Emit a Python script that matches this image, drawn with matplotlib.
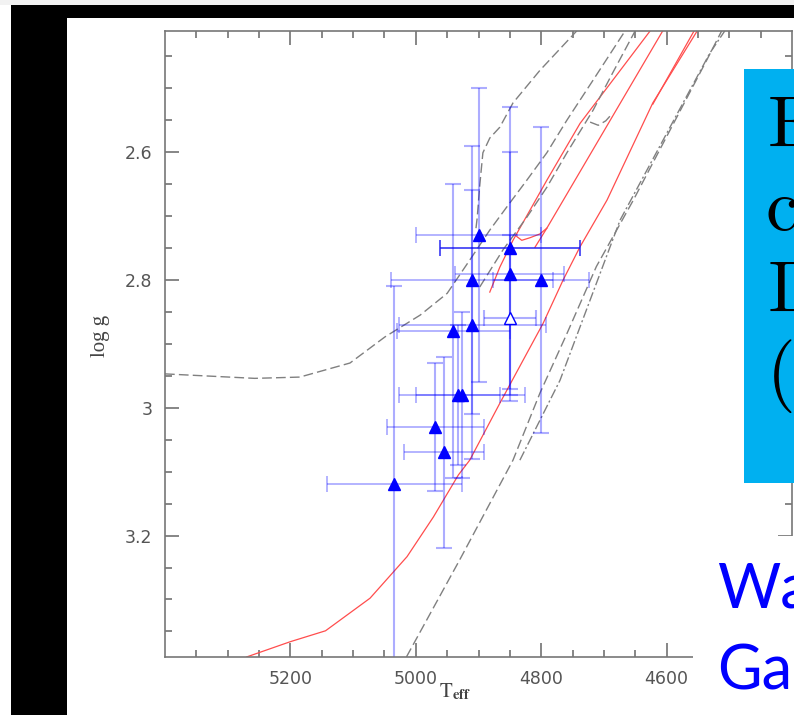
import matplotlib
matplotlib.use("Agg")
import matplotlib.pyplot as plt
from matplotlib.patches import Rectangle
from matplotlib.ticker import FixedLocator, FuncFormatter

W, H = 794, 715  # slide size in pixels

# observed giants (Teff, log g) with errors
t_obs = [4900, 4850, 4850, 4910, 4800, 4910, 4940, 4933, 4926, 4969, 4955, 5034]
g_obs = [2.73, 2.75, 2.79, 2.80, 2.80, 2.87, 2.88, 2.98, 2.98, 3.03, 3.07, 3.12]
t_err = [100, 112, 87, 129, 77, 117, 90, 67, 100, 77, 64, 108]
g_err = [0.23, 0.22, 0.19, 0.21, 0.24, 0.21, 0.23, 0.11, 0.13, 0.10, 0.15, 0.31]
dark_xerr = [False, True, False, False, False, False, False, False, False, False, False, False]

# open symbol
t_open = [4850]
g_open = [2.86]
t_open_err = [41]
g_open_err = [0.13]

# tracks (red, solid)
red1_t = [5270, 5200, 5144, 5073, 5014, 4972, 4932, 4914, 4866, 4823, 4797, 4765, 4738, 4695, 4622, 4551]
red1_g = [3.39, 3.366, 3.349, 3.298, 3.233, 3.171, 3.105, 3.082, 2.993, 2.915, 2.868, 2.80, 2.748, 2.675, 2.523, 2.41]
red1b_t = [4622, 4556]
red1b_g = [2.525, 2.41]
red2_t = [4882, 4866, 4845, 4791, 4738, 4626]
red2_g = [2.819, 2.78, 2.738, 2.644, 2.555, 2.41]
hook_t = [4839, 4831, 4818, 4802, 4791]
hook_g = [2.732, 2.738, 2.734, 2.728, 2.719]
red3_t = [4810, 4791, 4606]
red3_g = [2.749, 2.719, 2.41]

# isochrones / tracks (grey dashed)
grey1_t = [5400, 5257, 5185, 5105, 5049, 4993, 4950, 4914, 4882, 4855, 4823, 4791, 4759, 4717, 4666]
grey1_g = [2.947, 2.954, 2.952, 2.930, 2.889, 2.855, 2.821, 2.769, 2.722, 2.686, 2.644, 2.601, 2.550, 2.487, 2.41]
grey2_t = [4898, 4861, 4823, 4791, 4759, 4717, 4686, 4650]
grey2_g = [2.811, 2.753, 2.702, 2.655, 2.601, 2.534, 2.476, 2.41]
grey3_t = [4904, 4902, 4898, 4893, 4882, 4866, 4845, 4802, 4743]
grey3_g = [2.719, 2.702, 2.652, 2.601, 2.578, 2.561, 2.523, 2.472, 2.41]
ghook_t = [4722, 4709, 4697, 4686]
ghook_g = [2.553, 2.558, 2.551, 2.539]
grey4_t = [5015, 4930, 4845, 4802, 4759, 4712, 4653, 4536, 4512]
grey4_g = [3.39, 3.238, 3.082, 2.977, 2.884, 2.779, 2.675, 2.456, 2.41]
# dash-dot
grey5_t = [4834, 4770, 4674, 4531, 4507]
grey5_g = [3.082, 2.957, 2.706, 2.445, 2.41]

x_major = [5200, 5000, 4800, 4600]
y_major = [2.6, 2.8, 3.0, 3.2]

# slide text, partly hidden behind the slide edge
box_lines = ["E", "c", "D", "("]
box_left = [768, 765, 768, 767]
box_base = [147, 230, 312, 395]
cite_lines = ["Wa", "Ga"]
cite_base = [608, 690]

plt.rcParams["mathtext.fontset"] = "stix"


def fx(px):
    return px / W


def fy(py):
    return 1 - py / H


fig = plt.figure(figsize=(W / 100, H / 100), dpi=100)
fig.patch.set_facecolor("white")

ax = fig.add_axes([fx(165), fy(657), 627 / W, (657 - 30.7) / H])
ax.set_xlim(5400, 4400)
ax.set_ylim(3.39, 2.41)

red = (1.0, 0.3, 0.3)
grey = (0.5, 0.5, 0.5)
ax.plot(red1_t, red1_g, color=red, lw=0.9)
ax.plot(red1b_t, red1b_g, color=red, lw=0.9)
ax.plot(red2_t, red2_g, color=red, lw=0.9)
ax.plot(hook_t, hook_g, color=red, lw=0.9)
ax.plot(red3_t, red3_g, color=red, lw=0.9)

for tt, gg in [(grey1_t, grey1_g), (grey2_t, grey2_g), (grey3_t, grey3_g),
               (ghook_t, ghook_g), (grey4_t, grey4_g)]:
    ax.plot(tt, gg, color=grey, lw=1.0, dashes=(7, 3))
ax.plot(grey5_t, grey5_g, color=grey, lw=1.0, dashes=(7, 2, 1.5, 2))

light = (0, 0, 1, 0.32)
for i in range(len(t_obs)):
    ax.errorbar(t_obs[i], g_obs[i], yerr=g_err[i], fmt="none", ecolor=light,
                elinewidth=1.5, capsize=6, capthick=1.5)
    xc = (0.1, 0.1, 0.95, 0.8) if dark_xerr[i] else light
    ax.errorbar(t_obs[i], g_obs[i], xerr=t_err[i], fmt="none", ecolor=xc,
                elinewidth=1.3, capsize=6, capthick=1.3)
ax.errorbar(t_open, g_open, xerr=t_open_err, yerr=g_open_err, fmt="none",
            ecolor=light, elinewidth=1.5, capsize=6, capthick=1.5)
ax.plot(t_open, g_open, "^", ms=8, mfc="white", mec="blue", mew=1.0)
ax.plot(t_obs, g_obs, "^", ms=8, color="blue", mec="blue")

ax.xaxis.set_major_locator(FixedLocator(x_major))
ax.xaxis.set_minor_locator(FixedLocator([v for v in range(4450, 5400, 50) if v % 200 != 0]))
ax.yaxis.set_major_locator(FixedLocator(y_major))
ax.yaxis.set_minor_locator(FixedLocator([2.45, 2.5, 2.55, 2.65, 2.7, 2.75, 2.85, 2.9, 2.95,
                                         3.05, 3.1, 3.15, 3.25, 3.3, 3.35]))
ax.yaxis.set_major_formatter(FuncFormatter(lambda v, p: "%g" % v))
ax.tick_params(which="both", direction="in", top=True, right=True, color="#666666",
               width=1.1, labelcolor="#555555", labelsize=12.5, pad=9)
ax.tick_params(which="major", length=10)
ax.tick_params(which="minor", length=5)
for s in ax.spines.values():
    s.set_color("#777777")
    s.set_linewidth(1.2)

fig.text(fx(100), fy(336), "log g", rotation=90, ha="center", va="center",
         family="Liberation Serif", fontsize=15, color="#444444")
fig.text(fx(455), fy(697), r"$\mathrm{T}_{\mathbf{eff}}$", ha="center", va="baseline",
         fontsize=15, color="#444444")


# slide decorations around the chart
def rect(x0, y0, x1, y1, color, z=10):
    fig.add_artist(Rectangle((fx(x0), fy(y1)), (x1 - x0) / W, (y1 - y0) / H,
                             transform=fig.transFigure, color=color, lw=0, zorder=z))


rect(0, 0, W, 5, "#f2f2f2")
rect(11, 5, W, 18, "black")
rect(11, 5, 67, H, "black")
rect(693, 536, W, H, "white")
rect(744, 69, W, 483, "#00b0f0")

for txt, x, y in zip(box_lines, box_left, box_base):
    fig.text(fx(x), fy(y), txt, family="cmr10", fontsize=53, color="black",
             va="baseline", ha="left", zorder=12)

for txt, y in zip(cite_lines, cite_base):
    fig.text(fx(717), fy(y), txt, family="Lato", fontsize=44, color="#0000ff",
             va="baseline", ha="left", zorder=12)

fig.savefig("out.png", dpi=100)
